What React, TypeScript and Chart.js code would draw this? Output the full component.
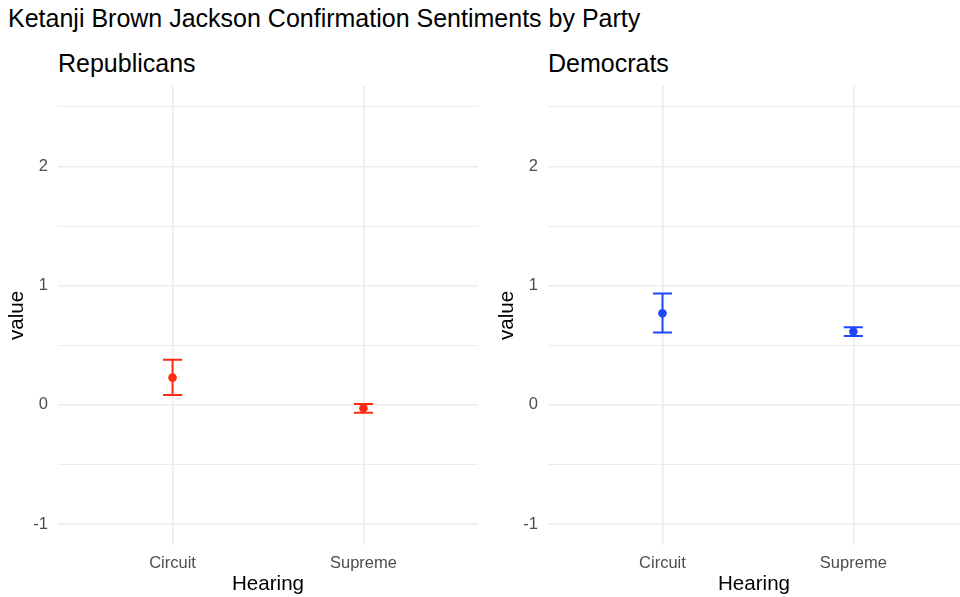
import React, { useEffect, useRef } from 'react';
import { Chart, registerables } from 'chart.js';

Chart.register(...registerables);

const FONT = '"Liberation Sans", Arial, Helvetica, sans-serif';

const mainTitle = 'Ketanji Brown Jackson Confirmation Sentiments by Party';
const hearings = ['Circuit', 'Supreme'];
const yTicks = [-1, -0.5, 0, 0.5, 1, 1.5, 2, 2.5];

const repTitle = 'Republicans';
const repMean = [0.229, -0.028];
const repLower = [0.084, -0.065];
const repUpper = [0.378, 0.008];
const repColor = '#ff2a14';

const demTitle = 'Democrats';
const demMean = [0.769, 0.615];
const demLower = [0.607, 0.579];
const demUpper = [0.934, 0.652];
const demColor = '#2146ff';

const errorBarPlugin = {
  id: 'errorBars',
  beforeDatasetsDraw(chart: any) {
    const opts = chart.options.plugins.errorBars;
    const { ctx } = chart;
    const xs = chart.scales.x;
    const ys = chart.scales.y;
    ctx.save();
    ctx.strokeStyle = opts.color;
    ctx.lineWidth = 2;
    ctx.lineCap = 'butt';
    opts.lower.forEach((lo: number, i: number) => {
      const hi = opts.upper[i];
      const xc = xs.getPixelForValue(i + 1);
      const xl = xs.getPixelForValue(i + 1 - 0.05);
      const xr = xs.getPixelForValue(i + 1 + 0.05);
      const yl = ys.getPixelForValue(lo);
      const yh = ys.getPixelForValue(hi);
      ctx.beginPath();
      ctx.moveTo(xc, yl);
      ctx.lineTo(xc, yh);
      ctx.moveTo(xl, yl);
      ctx.lineTo(xr, yl);
      ctx.moveTo(xl, yh);
      ctx.lineTo(xr, yh);
      ctx.stroke();
    });
    ctx.restore();
  },
};

type PanelProps = {
  means: number[];
  lowers: number[];
  uppers: number[];
  color: string;
  xMax: number;
  width: number;
  height: number;
  padRight: number;
};

function Panel({ means, lowers, uppers, color, xMax, width, height, padRight }: PanelProps) {
  const ref = useRef<HTMLCanvasElement>(null);
  useEffect(() => {
    if (!ref.current) return;
    const chart = new Chart(ref.current, {
      type: 'scatter',
      data: {
        datasets: [
          {
            data: means.map((m, i) => ({ x: i + 1, y: m })),
            backgroundColor: color,
            borderColor: color,
            borderWidth: 0,
            pointRadius: 4.3,
            pointHoverRadius: 4.3,
            clip: false,
          },
        ],
      },
      options: {
        animation: false,
        responsive: false,
        maintainAspectRatio: false,
        events: [],
        layout: { autoPadding: false, padding: { top: 6, right: padRight, bottom: 0, left: 0 } },
        plugins: {
          legend: { display: false },
          tooltip: { enabled: false },
          errorBars: { lower: lowers, upper: uppers, color },
        } as any,
        scales: {
          x: {
            type: 'linear',
            min: 0.4,
            max: xMax,
            afterBuildTicks: (s: any) => {
              s.ticks = hearings.map((_, i) => ({ value: i + 1 }));
            },
            afterFit: (s: any) => {
              s.height = 52;
              s.paddingLeft = 0;
              s.paddingRight = 0;
              s.paddingTop = 0;
              s.paddingBottom = 0;
            },
            ticks: {
              autoSkip: false,
              maxRotation: 0,
              padding: 9,
              color: '#4d4d4d',
              font: { family: FONT, size: 16.5 },
              callback: (v: any) => hearings[Math.round(v) - 1] ?? '',
            },
            grid: { color: '#ebebeb', lineWidth: 1.6, drawTicks: false },
            border: { display: false },
            title: {
              display: true,
              text: 'Hearing',
              color: '#000',
              font: { family: FONT, size: 20.6 },
              padding: { top: 0, bottom: 0 },
            },
          },
          y: {
            type: 'linear',
            min: -1.175,
            max: 2.675,
            afterBuildTicks: (s: any) => {
              s.ticks = yTicks.map((v) => ({ value: v }));
            },
            afterFit: (s: any) => {
              s.width = 58;
              s.paddingLeft = 0;
              s.paddingRight = 0;
              s.paddingTop = 0;
              s.paddingBottom = 0;
            },
            ticks: {
              autoSkip: false,
              padding: 10,
              color: '#4d4d4d',
              font: { family: FONT, size: 16.5 },
              callback: (v: any) => (Number.isInteger(v) ? String(v) : ''),
            },
            grid: {
              color: '#ebebeb',
              lineWidth: (c: any) => (Number.isInteger(c.tick?.value) ? 1.6 : 1.1),
              drawTicks: false,
            },
            border: { display: false },
            title: {
              display: true,
              text: 'value',
              color: '#000',
              font: { family: FONT, size: 20.6 },
              padding: { top: 5, bottom: 0 },
            },
          },
        },
      } as any,
      plugins: [errorBarPlugin],
    });
    return () => chart.destroy();
  }, []);
  return <canvas ref={ref} width={width} height={height} style={{ width, height, display: 'block' }} />;
}

export default function App() {
  const textStyle = (left: number, top: number): React.CSSProperties => ({
    position: 'absolute',
    left,
    top,
    fontFamily: FONT,
    fontSize: 25,
    lineHeight: '25px',
    color: '#000',
    whiteSpace: 'nowrap',
  });
  return (
    <div style={{ position: 'fixed', left: 0, top: 0, width: 960, height: 597, background: '#fff', overflow: 'hidden' }}>
      <div style={textStyle(8, 6)}>{mainTitle}</div>
      <div style={textStyle(58, 51)}>{repTitle}</div>
      <div style={textStyle(548, 51)}>{demTitle}</div>
      <div style={{ position: 'absolute', left: 0, top: 80 }}>
        <Panel means={repMean} lowers={repLower} uppers={repUpper} color={repColor} xMax={2.6} width={480} height={517} padRight={2} />
      </div>
      <div style={{ position: 'absolute', left: 490, top: 80 }}>
        <Panel means={demMean} lowers={demLower} uppers={demUpper} color={demColor} xMax={2.559} width={470} height={517} padRight={0} />
      </div>
    </div>
  );
}
